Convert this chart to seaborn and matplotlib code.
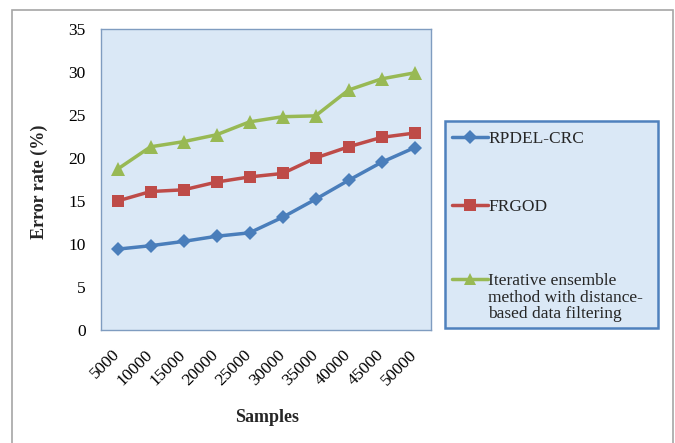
import numpy as np
import pandas as pd
import matplotlib
matplotlib.use("Agg")
import matplotlib.pyplot as plt
import seaborn as sns
from matplotlib.legend_handler import HandlerLine2D
from matplotlib.patches import Rectangle

samples = ["5000", "10000", "15000", "20000", "25000",
           "30000", "35000", "40000", "45000", "50000"]
rpdel_crc = [9.4, 9.8, 10.3, 10.9, 11.3, 13.1, 15.2, 17.4, 19.5, 21.2]
frgod = [15.0, 16.1, 16.3, 17.2, 17.8, 18.2, 20.0, 21.3, 22.4, 22.9]
iterative = [18.7, 21.3, 21.9, 22.7, 24.2, 24.8, 24.9, 27.9, 29.2, 29.9]
series_names = ["RPDEL-CRC", "FRGOD",
                "Iterative ensemble\nmethod with distance-\nbased data filtering"]
y_ticks = [0, 5, 10, 15, 20, 25, 30, 35]

df = pd.DataFrame({
    "Samples": samples * 3,
    "Error rate (%)": rpdel_crc + frgod + iterative,
    "Method": [series_names[0]] * 10 + [series_names[1]] * 10 + [series_names[2]] * 10,
})

sns.set_theme(style="white")
plt.rcParams["font.family"] = ["Liberation Serif", "DejaVu Serif"]

W, H = 675, 443
fig = plt.figure(figsize=(W / 100, H / 100), dpi=100)
fig.patch.set_facecolor("white")
panel_color = "#dae8f6"

# outer chart frame (runs off the bottom edge)
fig.patches.append(Rectangle((12 / W, -0.05), 661 / W, 1 - 10 / H + 0.05,
                             transform=fig.transFigure, fill=False,
                             edgecolor="#a6a6a6", linewidth=1.2, zorder=0))

# legend panel
fig.patches.append(Rectangle((445 / W, 1 - 328 / H), 213 / W, 207 / H,
                             transform=fig.transFigure, facecolor=panel_color,
                             edgecolor="#4f81bd", linewidth=1.8, zorder=1))

ax = fig.add_axes([101 / W, 1 - 330 / H, 330 / W, 301 / H])
ax.set_facecolor(panel_color)

palette = ["#4a7ebb", "#be4b48", "#98b954"]
markers = ["D", "s", "^"]
sizes = [7.5, 9, 10]

sns.lineplot(data=df, x="Samples", y="Error rate (%)", hue="Method", style="Method",
             palette=palette, markers=markers, dashes=False, sort=False,
             linewidth=2.5, markeredgewidth=0, ax=ax, legend=True)

for line, ms in zip(ax.lines, sizes):
    line.set_markersize(ms)

ax.set_ylim(0, 35)
ax.set_yticks(y_ticks)
ax.set_xlim(-0.5, 9.5)
ax.tick_params(axis="both", length=0, labelsize=12.5, colors="#000000")
ax.tick_params(axis="y", pad=11)
ax.tick_params(axis="x", pad=16)
for lab in ax.get_xticklabels():
    lab.set_rotation(45)
    lab.set_ha("right")
    lab.set_va("center")
    lab.set_rotation_mode("anchor")

for sp in ax.spines.values():
    sp.set_color("#7f9cc0")
    sp.set_linewidth(1.0)

ax.set_xlabel("")
ax.set_ylabel("")
fig.text(39 / W, 1 - 182 / H, "Error rate (%)", rotation=90, ha="center", va="center",
         fontsize=13, fontweight="bold")
fig.text(267 / W, 1 - 417 / H, "Samples", ha="center", va="center",
         fontsize=13, fontweight="bold")


class FirstLineHandler(HandlerLine2D):
    """Line handle lifted to sit beside the first line of a wrapped label."""

    def __init__(self, shift=0.0, **kw):
        super().__init__(**kw)
        self.shift = shift

    def create_artists(self, legend, orig_handle, xdescent, ydescent, width, height,
                       fontsize, trans):
        arts = super().create_artists(legend, orig_handle, xdescent, ydescent, width,
                                      height, fontsize, trans)
        for a in arts:
            a.set_ydata(np.asarray(a.get_ydata()) + self.shift)
        return arts


handles, labels = ax.get_legend_handles_labels()
ax.get_legend().remove()
for h, ms in zip(handles, sizes):
    h.set_markersize(ms * 0.9)
    h.set_linewidth(2.5)

legend_kw = dict(loc="upper left", frameon=False, fontsize=12.5,
                 handlelength=2.1, handletextpad=0.0, borderpad=0, borderaxespad=0)

# first two entries
leg_top = fig.legend(handles[:2], labels[:2], bbox_to_anchor=(452 / W, 1 - 131 / H),
                     labelspacing=3.0, **legend_kw)
leg_top.set_zorder(5)

# wrapped third entry
leg_bottom = fig.legend(handles[2:], labels[2:], bbox_to_anchor=(452 / W, 1 - 273 / H),
                        handler_map={handles[2]: FirstLineHandler(shift=13.5)},
                        **legend_kw)
for t in leg_bottom.get_texts():
    t.set_linespacing(1.05)
leg_bottom.set_zorder(5)

fig.savefig("out.png", dpi=100)
